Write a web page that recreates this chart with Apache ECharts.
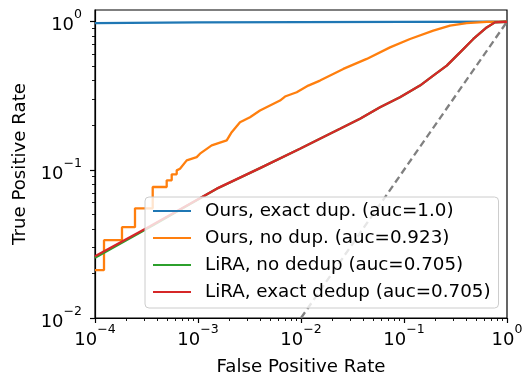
<!DOCTYPE html>
<html>
<head>
<meta charset="utf-8">
<script src="https://cdn.jsdelivr.net/npm/echarts@6/dist/echarts.min.js"></script>
<style>html,body{margin:0;padding:0;background:#fff}#c{width:522px;height:375px}</style>
</head>
<body>
<div id="c"></div>
<script>
// ---- data ----
const seriesNames = ['Ours, exact dup. (auc=1.0)', 'Ours, no dup. (auc=0.923)', 'LiRA, no dedup (auc=0.705)', 'LiRA, exact dedup (auc=0.705)'];

const fprOursExact = [1e-4, 1e-3, 1e-2, 1e-1, 1];
const tprOursExact = [0.978, 0.99, 0.995, 0.998, 1.0];

// staircase corners at low FPR, then the measured curve
const fprOursNoDup = [1e-4, 1.223e-4, 1.223e-4, 1.828e-4, 1.828e-4, 2.445e-4, 2.445e-4, 3.633e-4, 3.633e-4, 4.967e-4, 4.967e-4, 5.556e-4, 5.556e-4, 6.213e-4, 6.213e-4,
  6.687e-4, 7.77e-4, 9.71e-4, 1.0457e-3, 1.358e-3, 1.90e-3, 2.124e-3, 2.557e-3, 3.198e-3, 3.999e-3, 5.0e-3, 6.254e-3, 6.993e-3, 9.085e-3, 0.01177,
  0.01529, 0.02575, 0.04345, 0.07314, 0.1144, 0.1925, 0.2797, 0.4062, 0.6353, 1.0];
const tprOursNoDup = [0.02105, 0.02105, 0.03352, 0.03352, 0.04101, 0.04101, 0.05504, 0.05504, 0.07659, 0.07659, 0.08499, 0.08499, 0.09327, 0.09327, 0.09922,
  0.1019, 0.1159, 0.1220, 0.1286, 0.1462, 0.1580, 0.1797, 0.2099, 0.2268, 0.2516, 0.2719, 0.2938, 0.3126, 0.3341, 0.3707,
  0.4006, 0.4803, 0.5609, 0.6713, 0.7648, 0.8698, 0.9400, 0.9800, 0.997, 1.0];

const fprLiraNoDedup = [1e-4, 3.42e-4, 1.52e-3, 4.0e-3, 9.77e-3, 0.01527, 0.02392, 0.0374, 0.0585, 0.0914, 0.1429, 0.1923, 0.260, 0.350, 0.471, 0.635, 0.764, 1.0];
const tprLiraNoDedup = [0.0255, 0.0412, 0.0745, 0.1027, 0.139, 0.1622, 0.1894, 0.2212, 0.2648, 0.3092, 0.3707, 0.4328, 0.5055, 0.6215, 0.7649, 0.9154, 0.99, 1.0];

const fprLiraExact = [1e-4, 3.42e-4, 1.52e-3, 4.0e-3, 9.77e-3, 0.01527, 0.02392, 0.0374, 0.0585, 0.0914, 0.1429, 0.1923, 0.260, 0.350, 0.471, 0.635, 0.764, 1.0];
const tprLiraExact = [0.02615, 0.0416, 0.0747, 0.1027, 0.139, 0.1622, 0.1894, 0.2212, 0.2648, 0.3092, 0.3707, 0.4328, 0.5055, 0.6215, 0.7649, 0.9154, 0.99, 1.0];

const chanceX = [0.01, 1];
const chanceY = [0.01, 1];

const xMajorTicks = [1e-4, 1e-3, 1e-2, 1e-1, 1];
const yMajorTicks = [1e-2, 1e-1, 1];
// ---- end data ----

function minorTicks(major) {
  const out = [];
  for (let i = 0; i < major.length - 1; i++) {
    for (let k = 2; k <= 9; k++) out.push(major[i] * k);
  }
  return out;
}
function zip(a, b) { return a.map((v, i) => [v, b[i]]); }

const FONT = 'DejaVu Sans';
const rich = {
  b: { fontSize: 18, fontFamily: FONT, color: '#000', lineHeight: 26, verticalAlign: 'bottom' },
  e: { fontSize: 12.5, fontFamily: FONT, color: '#000', lineHeight: 26, verticalAlign: 'top' }
};
function fmt(v) {
  const e = Math.round(Math.log10(v));
  return '{b|10}{e|' + (e < 0 ? '\u2212' + (-e) : String(e)) + '}';
}

const XMIN = 1e-4, XMAX = 1, YMIN = 1e-2, YMAX = 1.2;

const chart = echarts.init(document.getElementById('c'), null, { renderer: 'canvas' });
const colors = ['#1f77b4', '#ff7f0e', '#2ca02c', '#d62728'];

chart.setOption({
  animation: false,
  textStyle: { fontFamily: FONT },
  grid: { left: 95, right: 15, top: 10, bottom: 57, containLabel: false, outerBoundsMode: 'none', show: true, borderColor: '#000', borderWidth: 1.2, backgroundColor: 'transparent' },
  xAxis: [
    {
      type: 'log', min: XMIN, max: XMAX, logBase: 10, position: 'bottom',
      name: 'False Positive Rate', nameLocation: 'middle', nameGap: 40,
      nameTextStyle: { fontSize: 18.2, fontFamily: FONT, color: '#000' },
      axisLine: { show: true, onZero: false, lineStyle: { color: '#000', width: 1.2 } },
      axisTick: { show: true, length: 5, customValues: xMajorTicks, lineStyle: { color: '#000', width: 1.2 } },
      axisLabel: { customValues: xMajorTicks, margin: 5, formatter: fmt, rich: rich },
      splitLine: { show: false }
    },
    {
      type: 'log', min: XMIN, max: XMAX, logBase: 10, position: 'bottom',
      axisLine: { show: false },
      axisTick: { show: true, length: 3, customValues: minorTicks(xMajorTicks), lineStyle: { color: '#000', width: 0.9 } },
      axisLabel: { show: false },
      splitLine: { show: false }
    }
  ],
  yAxis: [
    {
      type: 'log', min: YMIN, max: YMAX, logBase: 10, position: 'left',
      name: 'True Positive Rate', nameLocation: 'middle', nameGap: 64,
      nameTextStyle: { fontSize: 18.2, fontFamily: FONT, color: '#000' },
      axisLine: { show: true, onZero: false, lineStyle: { color: '#000', width: 1.2 } },
      axisTick: { show: true, length: 5, customValues: yMajorTicks, lineStyle: { color: '#000', width: 1.2 } },
      axisLabel: { customValues: yMajorTicks, margin: 13, formatter: fmt, rich: rich },
      splitLine: { show: false }
    },
    {
      type: 'log', min: YMIN, max: YMAX, logBase: 10, position: 'left',
      axisLine: { show: false },
      axisTick: { show: true, length: 3, customValues: minorTicks(yMajorTicks), lineStyle: { color: '#000', width: 0.9 } },
      axisLabel: { show: false },
      splitLine: { show: false }
    }
  ],
  legend: {
    left: 145, top: 197,
    orient: 'vertical',
    data: seriesNames,
    itemWidth: 38, itemHeight: 14, itemGap: 7,
    padding: [4, 8, 6, 7],
    backgroundColor: 'rgba(255,255,255,0.8)',
    borderColor: '#cccccc', borderWidth: 1, borderRadius: 4,
    textStyle: { fontSize: 18.3, lineHeight: 20, fontFamily: FONT, color: '#000', padding: [0, 0, 0, 9] },
    itemStyle: { opacity: 0 },
    z: 10
  },
  series: [
    {
      type: 'line', name: '__chance', data: zip(chanceX, chanceY), showSymbol: false, symbol: 'none',
      lineStyle: { color: '#808080', width: 2.3, type: [7, 4] }, z: 1, silent: true
    },
    {
      type: 'line', name: seriesNames[0], data: zip(fprOursExact, tprOursExact), symbol: 'none', color: colors[0],
      lineStyle: { width: 2.3, color: colors[0] }, z: 2
    },
    {
      type: 'line', name: seriesNames[1], data: zip(fprOursNoDup, tprOursNoDup), symbol: 'none', color: colors[1],
      lineStyle: { width: 2.3, color: colors[1] }, z: 3
    },
    {
      type: 'line', name: seriesNames[2], data: zip(fprLiraNoDedup, tprLiraNoDedup), symbol: 'none', color: colors[2],
      lineStyle: { width: 2.3, color: colors[2] }, z: 4
    },
    {
      type: 'line', name: seriesNames[3], data: zip(fprLiraExact, tprLiraExact), symbol: 'none', color: colors[3],
      lineStyle: { width: 2.3, color: colors[3] }, z: 5
    }
  ]
});
</script>
</body>
</html>
